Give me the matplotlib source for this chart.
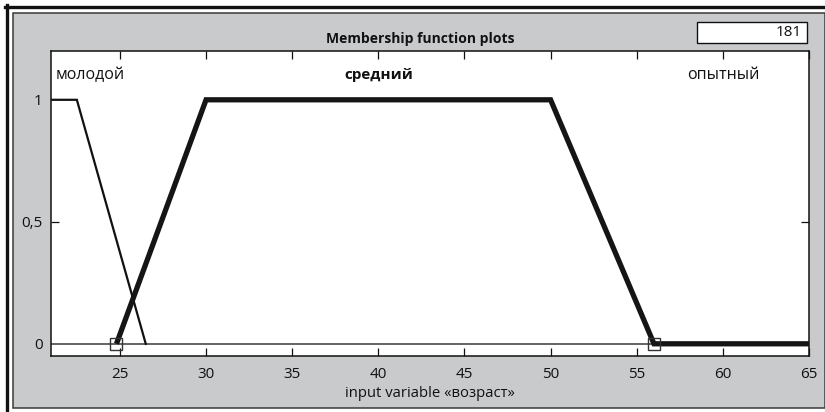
import matplotlib
matplotlib.use("Agg")
import matplotlib.pyplot as plt
from matplotlib.patches import Rectangle
from matplotlib.lines import Line2D

plt.rcParams['font.family'] = ['Open Sans', 'DejaVu Sans']

# Membership functions of the input variable "возраст"
young_x = [21, 22.5, 26.5]
young_y = [1, 1, 0]
middle_x = [24.8, 30, 50, 56, 65]
middle_y = [0, 1, 1, 0, 0]
marker_x = [24.8, 56]
marker_y = [0, 0]

mf_names = ["молодой", "средний", "опытный"]
label_x = [21.25, 40, 60]
label_y = 1.10

x_ticks = [25, 30, 35, 40, 45, 50, 55, 60, 65]
y_ticks = [0, 0.5, 1]
y_tick_labels = ["0", "0,5", "1"]

title = "Membership function plots"
point_count = "181"
xlabel = "input variable «возраст»"

W, H = 825, 412
fig = plt.figure(figsize=(W / 100, H / 100), dpi=100)
fig.patch.set_facecolor("white")

def fx(px):
    return px / W

def fy(py):
    return 1 - py / H

GRAY = "#c9cacc"

# window frame
fig.add_artist(Rectangle((fx(13), fy(408)), fx(825 - 13), (408 - 13) / H,
                         transform=fig.transFigure, facecolor=GRAY,
                         edgecolor="#3a3a3a", linewidth=1.1, zorder=0))
fig.add_artist(Line2D([fx(6.5), fx(6.5)], [fy(5), 0], transform=fig.transFigure,
                      color="#111111", linewidth=2.4, zorder=1))
fig.add_artist(Line2D([fx(5), 1], [fy(6.5), fy(6.5)], transform=fig.transFigure,
                      color="#111111", linewidth=2.4, zorder=1))

ax = fig.add_axes([fx(51), fy(356), fx(809 - 51), (356 - 51) / H])
ax.set_facecolor("white")
ax.set_xlim(21, 65)
ax.set_ylim(-0.05, 1.2)

ax.axhline(0, color="#3a3a3a", linewidth=1.1, zorder=2)
ax.plot(young_x, young_y, color="#111111", linewidth=1.6, zorder=3,
        solid_joinstyle="miter")
ax.plot(middle_x, middle_y, color="#151515", linewidth=3.8, zorder=4,
        solid_joinstyle="miter", solid_capstyle="butt")
ax.plot(marker_x, marker_y, linestyle="none", marker="s", markersize=9,
        markerfacecolor="none", markeredgecolor="#333333",
        markeredgewidth=1.0, zorder=5)

for name, lx in zip(mf_names, label_x):
    ha = "left" if lx < 22 else "center"
    bold = name == "средний"
    ax.text(lx, label_y, name, ha=ha, va="center",
            fontsize=11 if bold else 11.5,
            fontweight="bold" if bold else "normal", color="#111111")

ax.set_xticks(x_ticks)
ax.set_xticklabels([str(t) for t in x_ticks])
ax.set_yticks(y_ticks)
ax.set_yticklabels(y_tick_labels)
ax.tick_params(axis="both", direction="in", length=6, width=0.9,
               labelsize=11, colors="#111111", top=True, right=True)
ax.tick_params(axis="x", pad=8)
ax.tick_params(axis="y", pad=6)
# only the middle y tick shows a mark
for val, tick in zip(y_ticks, ax.yaxis.get_major_ticks()):
    if val != 0.5:
        tick.tick1line.set_visible(False)
        tick.tick2line.set_visible(False)
for s in ax.spines.values():
    s.set_color("#111111")
    s.set_linewidth(1.1)

ax.set_xlabel(xlabel, fontsize=10.7, labelpad=3, color="#111111")

fig.text(fx(420), fy(39), title, ha="center", va="center", fontsize=10,
         fontweight="bold", color="#111111")

fig.add_artist(Rectangle((fx(697), fy(43)), fx(110), (43 - 22) / H,
                         transform=fig.transFigure, facecolor="white",
                         edgecolor="#111111", linewidth=1.0, zorder=2))
fig.text(fx(802), fy(32.5), point_count, ha="right", va="center",
         fontsize=11, color="#111111", zorder=3)

fig.savefig("out.png", dpi=100)
